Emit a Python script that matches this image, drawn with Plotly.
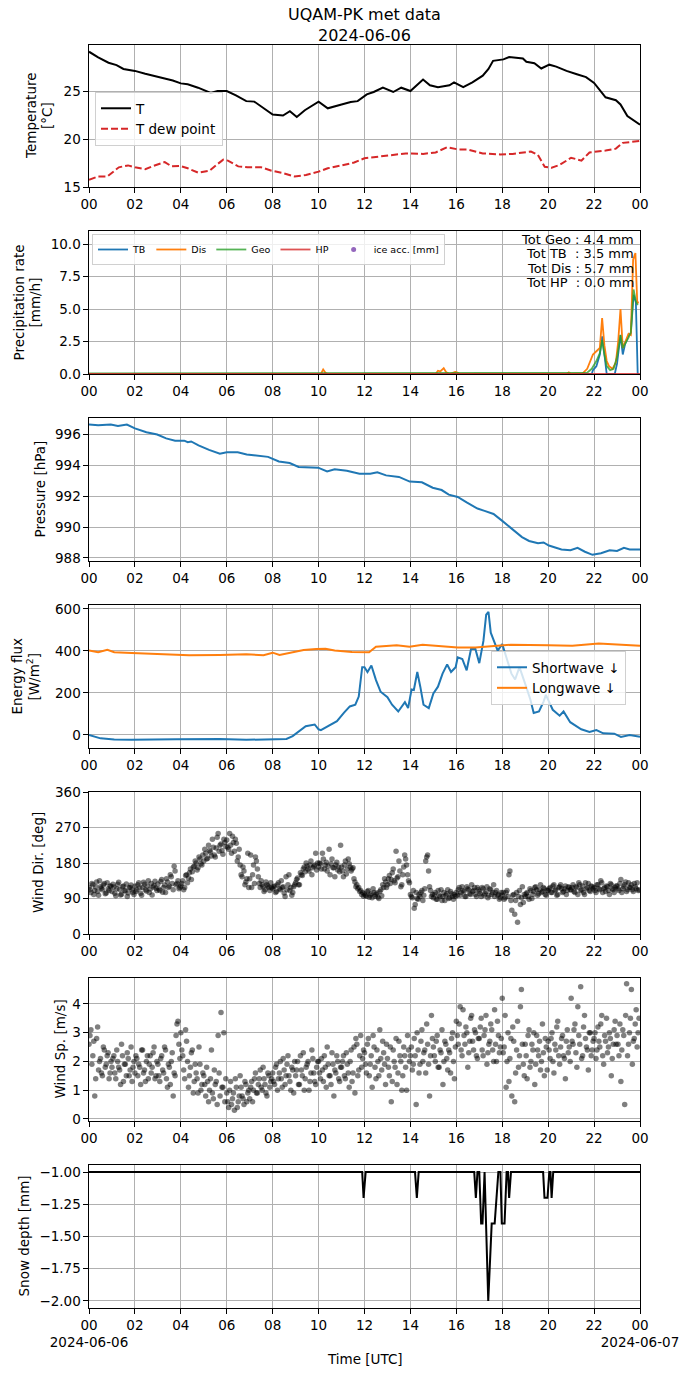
import numpy as np
import pandas as pd
import plotly.graph_objects as go

BASE = pd.Timestamp("2024-06-06 00:00")


def tt(h):
    return BASE + pd.to_timedelta(np.asarray(h, dtype=float), unit="h")


# ---------------- data (hours since 2024-06-06 00 UTC) ----------------
t_hours = [0.0, 0.4, 0.85, 1.2, 1.5, 2.0, 2.45, 2.95, 3.3, 3.65, 4.0, 4.3, 4.75, 5.3, 5.6, 6.0,
           6.4, 6.85, 7.2, 7.65, 8.0, 8.45, 8.75, 9.05, 9.4, 10.0, 10.4, 11.0, 11.4, 11.7, 12.1,
           12.4, 12.8, 13.25, 13.6, 14.0, 14.3, 14.55, 14.85, 15.2, 15.7, 15.9, 16.3, 16.7, 17.15,
           17.4, 17.6, 18.05, 18.3, 18.9, 19.05, 19.4, 19.7, 20.05, 20.35, 20.8, 21.25, 21.65,
           22.0, 22.5, 22.95, 23.15, 23.45, 24.0]
temp = [29.1, 28.5, 27.95, 27.7, 27.3, 27.1, 26.8, 26.5, 26.3, 26.1, 25.8, 25.7, 25.35, 24.8, 25.0, 25.0,
        24.55, 23.95, 23.9, 23.1, 22.55, 22.45, 22.9, 22.3, 23.0, 23.9, 23.2, 23.6, 23.85, 23.95, 24.65,
        24.9, 25.35, 24.9, 25.35, 25.0, 25.7, 26.2, 25.6, 25.4, 25.6, 25.9, 25.4, 25.9, 26.6,
        27.3, 28.15, 28.3, 28.55, 28.4, 28.05, 27.9, 27.35, 27.75, 27.55, 27.1, 26.75, 26.45,
        25.85, 24.35, 24.05, 23.6, 22.4, 21.5]

td_hours = [0.0, 0.4, 0.8, 1.3, 1.7, 2.0, 2.45, 2.8, 3.3, 3.6, 3.95, 4.3, 4.75, 5.25, 5.55, 5.85,
            6.05, 6.5, 6.9, 7.5, 7.95, 8.45, 8.95, 9.45, 10.0, 10.4, 11.0, 11.55, 12.0, 12.95,
            13.8, 14.55, 15.1, 15.6, 16.1, 16.5, 17.15, 17.9, 18.45, 19.25, 19.55, 19.85, 20.15,
            20.5, 21.0, 21.45, 21.8, 22.5, 22.95, 23.25, 23.85, 24.0]
tdew = [15.75, 16.1, 16.1, 17.05, 17.25, 17.05, 16.85, 17.2, 17.6, 17.15, 17.2, 16.95, 16.5, 16.7, 17.3, 17.85,
        17.75, 17.15, 17.05, 17.05, 16.7, 16.45, 16.1, 16.25, 16.6, 16.95, 17.25, 17.55, 18.0, 18.25,
        18.5, 18.45, 18.6, 19.15, 18.9, 18.9, 18.5, 18.4, 18.45, 18.7, 18.35, 17.1, 17.0,
        17.3, 18.05, 17.75, 18.6, 18.8, 19.0, 19.6, 19.8, 19.8]

tb_hours = [0.0, 21.9, 21.95, 22.1, 22.25, 22.35, 22.45, 22.55, 22.9, 23.0, 23.15, 23.25, 23.35,
            23.5, 23.6, 23.72, 23.82, 23.9, 23.95]
tb_rate = [0.0, 0.0, 0.3, 0.6, 1.5, 2.9, 1.5, 0.0, 0.0, 0.8, 3.0, 1.5, 2.3,
           3.0, 3.1, 6.1, 5.5, 0.0, 0.0]

dis_hours = [0.0, 10.1, 10.2, 10.3, 10.4, 15.1, 15.2, 15.3, 15.45, 15.55, 15.7, 15.95, 16.05, 16.15,
             20.8, 20.9, 21.0, 21.5, 21.7, 21.85, 21.95, 22.1, 22.25, 22.35, 22.45, 22.55, 22.65,
             22.8, 22.95, 23.05, 23.15, 23.25, 23.35, 23.5, 23.6, 23.7, 23.8, 23.88, 23.95]
dis_rate = [0.0, 0.0, 0.35, 0.1, 0.0, 0.0, 0.25, 0.2, 0.45, 0.15, 0.0, 0.15, 0.1, 0.0,
            0.0, 0.12, 0.0, 0.05, 0.4, 1.0, 1.5, 1.75, 2.0, 4.3, 2.2, 1.0, 0.6,
            0.4, 0.9, 2.5, 5.0, 2.0, 2.5, 3.1, 3.0, 8.8, 9.3, 5.5, 5.5]

geo_hours = [0.0, 10.2, 15.4, 21.7, 21.9, 22.1, 22.25, 22.35, 22.45, 22.55, 22.7, 22.85, 23.0,
             23.15, 23.25, 23.35, 23.5, 23.6, 23.72, 23.82, 23.9]
geo_rate = [0.05, 0.05, 0.05, 0.1, 0.4, 1.0, 1.6, 2.6, 1.5, 0.6, 0.3, 0.4, 1.3,
            3.0, 2.0, 2.3, 2.8, 3.2, 6.5, 5.6, 5.3]

hp_hours = [0.0, 24.0]
hp_rate = [0.0, 0.0]

ice_hours = [None]
ice_acc = [None]

p_hours = [0.0, 0.4, 0.95, 1.26, 1.65, 2.0, 2.5, 2.97, 3.36, 3.75, 4.15, 4.3, 4.45, 4.77, 5.23, 5.7,
           6.0, 6.48, 6.87, 7.34, 7.8, 8.27, 8.74, 9.13, 9.6, 9.98, 10.37, 10.7, 11.23, 11.78,
           12.25, 12.56, 12.94, 13.5, 13.97, 14.5, 14.97, 15.36, 15.67, 16.06, 16.45, 16.92,
           17.23, 17.62, 18.0, 18.47, 18.86, 19.17, 19.56, 19.8, 20.03, 20.58, 20.97, 21.28,
           21.6, 21.93, 22.3, 22.68, 23.0, 23.3, 23.55, 24.0]
pressure = [996.65, 996.6, 996.65, 996.55, 996.65, 996.4, 996.15, 996.0, 995.75, 995.6, 995.6, 995.5,
            995.55, 995.3, 995.0, 994.75, 994.85, 994.85, 994.7, 994.6, 994.55, 994.25, 994.15,
            993.9, 993.85, 993.85, 993.6, 993.75, 993.65, 993.45, 993.45, 993.55, 993.35, 993.25,
            992.95, 992.9, 992.55, 992.4, 992.1, 991.95, 991.6, 991.2, 991.05, 990.85, 990.4,
            989.85, 989.35, 989.1, 988.95, 989.0, 988.8, 988.55, 988.5, 988.65, 988.4, 988.2,
            988.3, 988.5, 988.45, 988.65, 988.55, 988.55]

sw_hours = [0.0, 0.5, 1.1, 1.86, 3.8, 5.7, 6.85, 8.0, 8.6, 8.87, 9.15, 9.44, 9.83, 10.0, 10.1,
            10.5, 10.8, 11.1, 11.36, 11.6, 11.75, 11.9, 12.0, 12.13, 12.3, 12.5, 12.7, 13.0,
            13.2, 13.47, 13.76, 13.9, 14.05, 14.15, 14.3, 14.43, 14.57, 14.8, 15.0, 15.2, 15.4,
            15.6, 15.77, 15.97, 16.06, 16.26, 16.45, 16.64, 16.83, 17.0, 17.18, 17.3, 17.4,
            17.5, 17.6, 17.8, 18.0, 18.2, 18.4, 18.56, 18.75, 19.04, 19.23, 19.37, 19.6, 19.8,
            19.9, 20.2, 20.5, 20.67, 20.96, 21.44, 21.8, 22.1, 22.4, 22.88, 23.17, 23.55, 24.0]
shortwave = [0, -16, -22, -23, -20, -19, -23, -22, -19, -5, 19, 42, 50, 27, 23,
             47, 66, 105, 136, 144, 183, 323, 323, 300, 331, 261, 206, 180,
             144, 112, 156, 128, 217, 214, 300, 230, 144, 128, 198, 230, 292,
             336, 300, 323, 370, 362, 308, 409, 409, 342, 448, 573, 586,
             487, 456, 402, 433, 362, 292, 264, 323, 230, 167, 105, 112, 159,
             191, 120, 92, 112, 61, 27, 14, 23, 8, 6, -9, 0, -8]

lw_hours = [0.0, 0.4, 0.8, 1.1, 1.86, 3.8, 4.36, 5.7, 6.85, 7.6, 8.0, 8.3, 8.8, 9.35, 9.9, 10.3,
            10.7, 11.45, 12.2, 12.5, 13.4, 13.96, 14.53, 15.3, 16.06, 16.83, 17.6, 18.37, 20.0,
            21.05, 22.2, 22.97, 24.0]
longwave = [402, 394, 406, 394, 391, 384, 380, 381, 384, 380, 392, 381, 392, 405, 409, 411,
            402, 395, 394, 420, 427, 420, 430, 422, 417, 417, 425, 430, 427,
            425, 436, 431, 425]

# wind: two interleaved series of readings, one value every 5 minutes each (12 per hour)
wind_dir_a = [
    118, 105, 125, 110, 132, 98, 120, 112, 128, 104, 115, 122,
    108, 119, 97, 126, 113, 101, 122, 109, 95, 117, 124, 106,
    121, 112, 130, 103, 118, 126, 109, 135, 114, 99, 123, 116,
    127, 110, 138, 118, 105, 132, 121, 145, 112, 160, 128, 115,
    122, 135, 118, 150, 142, 165, 158, 172, 180, 168, 190, 175,
    185, 205, 192, 212, 198, 220, 195, 245, 210, 228, 202, 232,
    238, 215, 225, 248, 210, 230, 195, 175, 145, 160, 132, 205,
    140, 118, 175, 195, 165, 128, 135, 120, 112, 125, 118, 130,
    115, 122, 108, 130, 112, 118, 104, 145, 125, 110, 98, 120,
    130, 142, 125, 150, 165, 158, 172, 160, 185, 168, 175, 162,
    170, 178, 205, 165, 182, 172, 150, 190, 168, 175, 162, 158,
    170, 145, 185, 165, 178, 160, 168, 132, 125, 118, 110, 105,
    102, 96, 110, 98, 92, 105, 100, 94, 108, 97, 118, 132,
    125, 148, 138, 165, 130, 142, 185, 120, 150, 200, 175, 135,
    100, 92, 65, 105, 88, 95, 110, 98, 185, 200, 120, 95,
    92, 105, 88, 98, 112, 95, 85, 102, 90, 108, 96, 100,
    105, 112, 98, 120, 108, 95, 115, 102, 125, 110, 100, 118,
    108, 95, 115, 102, 120, 98, 112, 105, 95, 110, 100, 92,
    98, 88, 105, 95, 160, 60, 100, 85, 30, 110, 92, 80,
    95, 105, 88, 110, 100, 118, 112, 102, 125, 108, 115, 98,
    110, 118, 105, 125, 112, 100, 120, 115, 108, 122, 110, 118,
    112, 125, 105, 118, 130, 110, 122, 100, 115, 128, 108, 120,
    118, 105, 125, 112, 130, 115, 108, 120, 100, 125, 112, 118,
    122, 110, 138, 115, 125, 108, 130, 118, 112, 128, 115, 110,
]
wind_dir_b = [
    112, 128, 100, 119, 108, 135, 116, 124, 102, 130, 110, 121,
    126, 103, 115, 131, 99, 120, 110, 127, 104, 118, 112, 100,
    108, 125, 117, 98, 131, 112, 122, 105, 128, 119, 134, 110,
    114, 133, 106, 124, 140, 118, 150, 128, 172, 125, 135, 118,
    128, 112, 148, 130, 155, 138, 170, 185, 162, 195, 178, 200,
    215, 190, 225, 208, 240, 200, 218, 255, 225, 212, 240, 222,
    220, 255, 205, 232, 240, 185, 215, 150, 170, 125, 140, 118,
    200, 150, 128, 185, 145, 118, 125, 108, 132, 122, 110, 118,
    120, 105, 125, 115, 135, 120, 95, 112, 150, 118, 105, 125,
    138, 125, 155, 148, 170, 180, 165, 175, 150, 172, 205, 180,
    180, 165, 190, 175, 160, 215, 178, 168, 145, 182, 170, 225,
    160, 175, 152, 190, 170, 165, 140, 120, 115, 108, 100, 96,
    98, 108, 93, 102, 115, 96, 104, 90, 112, 125, 140, 118,
    140, 128, 155, 135, 210, 145, 160, 125, 170, 190, 150, 130,
    95, 110, 75, 90, 100, 105, 85, 115, 195, 160, 110, 100,
    100, 88, 110, 95, 85, 105, 98, 112, 92, 102, 88, 95,
    98, 118, 105, 110, 95, 120, 112, 100, 108, 118, 95, 112,
    102, 118, 98, 108, 92, 115, 100, 125, 105, 98, 88, 105,
    105, 92, 110, 150, 85, 98, 50, 105, 95, 75, 120, 100,
    102, 95, 115, 90, 108, 120, 98, 112, 105, 118, 100, 110,
    115, 105, 122, 110, 98, 118, 125, 105, 115, 100, 120, 112,
    118, 108, 120, 100, 125, 112, 105, 130, 118, 110, 122, 115,
    110, 125, 115, 135, 105, 118, 122, 110, 128, 115, 105, 122,
    115, 128, 105, 120, 132, 112, 118, 125, 108, 120, 130, 112,
]
wind_speed_a = [
    2.6, 3.1, 2.2, 0.8, 2.8, 1.7, 2.1, 1.5, 2.4, 1.9, 2.3, 1.6,
    1.8, 2.2, 1.4, 2.0, 1.7, 2.6, 1.3, 1.9, 2.3, 1.5, 2.5, 1.8,
    1.6, 2.1, 1.9, 1.2, 2.4, 1.7, 2.0, 1.4, 2.2, 1.8, 2.5, 1.5,
    1.9, 1.3, 2.2, 1.6, 2.4, 1.1, 1.8, 2.0, 0.8, 1.5, 3.3, 2.6,
    3.0, 2.2, 1.4, 2.7, 1.1, 1.8, 2.4, 1.3, 1.6, 0.9, 1.9, 1.2,
    1.5, 0.8, 1.3, 1.0, 2.4, 0.7, 1.2, 0.5, 1.6, 3.7, 1.1, 0.6,
    0.9, 0.4, 1.3, 0.7, 0.3, 1.1, 0.6, 1.5, 0.8, 0.5, 1.2, 0.9,
    0.7, 1.3, 1.0, 1.6, 0.9, 1.4, 1.1, 1.8, 1.2, 0.8, 1.5, 1.3,
    1.6, 1.2, 1.9, 1.4, 2.0, 1.1, 1.7, 1.5, 2.2, 1.3, 1.8, 0.9,
    1.5, 2.0, 1.2, 1.7, 2.3, 1.4, 1.9, 1.0, 1.6, 2.1, 1.3, 1.8,
    2.0, 1.4, 1.7, 2.2, 1.1, 1.9, 1.5, 2.3, 0.8, 1.6, 2.0, 1.3,
    1.8, 2.2, 1.4, 1.9, 1.1, 2.4, 1.6, 0.9, 2.6, 1.7, 2.9, 2.1,
    2.3, 1.6, 2.8, 1.9, 1.1, 2.5, 1.4, 2.0, 3.1, 1.7, 2.3, 1.2,
    2.1, 1.5, 0.6, 2.4, 1.8, 1.2, 2.7, 2.0, 1.5, 2.2, 1.0, 2.4,
    2.2, 1.7, 2.8, 0.5, 2.4, 1.9, 3.1, 2.3, 1.6, 2.6, 0.8, 3.6,
    2.5, 2.0, 2.9, 1.8, 2.3, 1.2, 2.7, 2.1, 2.4, 1.6, 3.0, 1.4,
    3.4, 2.6, 3.9, 2.2, 2.9, 3.2, 1.8, 2.7, 3.6, 2.4, 3.0, 2.1,
    2.8, 3.5, 2.2, 3.1, 1.9, 2.6, 3.3, 2.4, 3.8, 2.0, 2.9, 2.5,
    4.2, 2.5, 1.1, 3.0, 2.1, 0.8, 2.7, 1.6, 3.4, 2.2, 4.5, 1.9,
    2.6, 1.4, 3.1, 2.0, 2.4, 1.2, 2.9, 2.2, 1.7, 3.3, 1.5, 2.5,
    2.7, 2.1, 3.0, 1.6, 2.4, 3.4, 1.9, 2.8, 2.2, 1.4, 3.1, 2.5,
    4.2, 2.6, 3.3, 1.8, 2.9, 4.6, 2.2, 3.6, 2.5, 1.7, 3.0, 2.4,
    2.8, 2.1, 3.2, 2.5, 3.6, 1.9, 2.7, 2.3, 3.0, 1.5, 2.6, 3.4,
    2.9, 2.2, 1.3, 3.1, 0.5, 4.7, 2.6, 3.5, 1.9, 2.8, 3.8, 3.0,
]
wind_speed_b = [
    2.9, 1.9, 2.7, 1.4, 3.2, 2.0, 1.6, 2.5, 1.8, 2.2, 1.4, 2.0,
    2.1, 1.6, 2.4, 1.8, 1.2, 2.2, 1.9, 1.5, 2.1, 1.7, 1.3, 2.0,
    2.2, 1.5, 1.8, 2.4, 1.6, 1.3, 2.2, 1.9, 1.6, 2.3, 1.4, 2.0,
    1.5, 2.1, 1.7, 2.5, 1.4, 1.9, 1.2, 2.3, 1.6, 2.9, 3.4, 2.1,
    2.4, 1.7, 3.1, 2.0, 1.5, 2.3, 0.9, 1.9, 1.4, 2.5, 1.0, 1.6,
    1.2, 1.8, 0.6, 1.4, 0.9, 1.7, 1.3, 2.9, 0.8, 1.1, 3.0, 1.4,
    0.6, 1.0, 0.5, 0.9, 1.4, 0.4, 0.8, 1.1, 0.7, 1.3, 0.6, 1.0,
    1.1, 0.6, 1.4, 0.9, 1.2, 1.7, 1.0, 1.4, 0.9, 1.6, 1.1, 1.4,
    1.3, 1.8, 1.0, 1.6, 1.4, 2.1, 1.2, 1.9, 1.5, 1.0, 1.7, 2.0,
    1.7, 1.2, 2.2, 1.5, 1.0, 1.8, 2.0, 1.3, 2.4, 1.6, 1.2, 2.0,
    1.6, 2.1, 1.3, 1.8, 2.5, 1.5, 1.2, 1.9, 1.7, 2.2, 1.4, 1.8,
    2.0, 1.5, 2.3, 1.6, 2.0, 1.3, 2.5, 2.8, 1.5, 2.2, 1.8, 2.4,
    1.9, 2.6, 1.5, 2.2, 2.9, 1.8, 2.4, 1.5, 2.1, 2.7, 1.9, 2.6,
    1.8, 2.5, 1.3, 2.0, 2.8, 1.6, 2.2, 1.0, 2.5, 1.8, 2.9, 2.0,
    2.5, 1.9, 2.2, 3.0, 1.6, 2.7, 2.0, 2.4, 3.3, 1.9, 2.2, 2.8,
    2.2, 2.7, 1.8, 2.4, 3.1, 2.0, 2.6, 1.7, 2.3, 2.8, 2.0, 2.5,
    2.9, 3.3, 2.4, 3.8, 2.6, 3.0, 2.3, 3.5, 2.7, 3.1, 2.2, 2.8,
    3.2, 2.4, 2.9, 3.6, 2.3, 2.7, 3.1, 2.0, 2.6, 3.4, 2.3, 2.8,
    2.3, 3.6, 2.0, 1.3, 2.8, 3.2, 0.6, 2.4, 1.8, 3.9, 2.6, 1.5,
    2.2, 2.9, 1.8, 2.6, 3.0, 1.9, 2.4, 2.7, 2.0, 2.3, 2.8, 1.7,
    2.4, 2.8, 2.0, 2.6, 3.2, 2.2, 2.5, 2.9, 2.1, 2.7, 2.3, 2.0,
    2.7, 3.1, 2.3, 3.9, 2.6, 2.1, 3.2, 2.8, 2.4, 3.0, 2.2, 2.7,
    3.0, 2.4, 2.7, 3.3, 2.2, 2.9, 3.5, 2.5, 2.8, 2.1, 3.1, 2.6,
    2.6, 3.3, 2.4, 2.9, 3.6, 2.2, 3.0, 4.5, 2.7, 3.3, 2.5, 3.5,
]

snow_hours = [0.0, 11.9, 11.96, 12.05, 14.2, 14.28, 14.36, 16.78, 16.85, 16.92, 17.0, 17.08, 17.14,
              17.23, 17.39, 17.54, 17.67, 17.83, 17.92, 17.98, 18.1, 18.19, 18.25, 18.3, 18.38,
              19.78, 19.84, 19.97, 20.05, 20.1, 20.15, 20.22, 24.0]
snow_depth = [-1.0, -1.0, -1.2, -1.0, -1.0, -1.2, -1.0, -1.0, -1.2, -1.0, -1.0, -1.4, -1.4,
              -1.0, -2.0, -1.4, -1.4, -1.0, -1.0, -1.4, -1.4, -1.0, -1.0, -1.2, -1.0,
              -1.0, -1.2, -1.2, -1.0, -1.0, -1.2, -1.0, -1.0]

tick_hours = list(range(0, 25, 2))
tick_labels = ["00", "02", "04", "06", "08", "10", "12", "14", "16", "18", "20", "22", "00"]
tick_labels_bottom = ["00<br>2024-06-06"] + tick_labels[1:-1] + ["00<br>2024-06-07"]

totals = ["Tot Geo : 4.4 mm", "Tot TB\u00a0 : 3.5 mm", "Tot Dis : 5.7 mm", "Tot HP\u00a0 : 0.0 mm"]

# ---------------- figure ----------------
FONT = "DejaVu Sans"
FS = 13.5
TOP, BOT = 45, 1308               # plot area in page pixels
H = BOT - TOP
LEFT, RIGHT = 89, 640
W = RIGHT - LEFT
FIG_W, FIG_H = 690, 1377
panels_px = [(45, 187), (231, 374), (418, 561), (605, 748), (792, 934), (978, 1121), (1165, 1308)]


def ypaper(px):
    return (BOT - px) / H


def xpaper(px):
    return (px - LEFT) / W


fig = go.Figure()
BLUE, ORANGE, GREEN, RED, PURPLE = "#1f77b4", "#ff7f0e", "#2ca02c", "#d62728", "#9467bd"

# panel 1
fig.add_trace(go.Scatter(x=tt(t_hours), y=temp, mode="lines", name="T",
                         line=dict(color="black", width=2), xaxis="x", yaxis="y", legend="legend"))
fig.add_trace(go.Scatter(x=tt(td_hours), y=tdew, mode="lines", name="T dew point",
                         line=dict(color=RED, width=2, dash="7px,3px"), xaxis="x", yaxis="y",
                         legend="legend"))
# panel 2
fig.add_trace(go.Scatter(x=tt(tb_hours), y=tb_rate, mode="lines", name="TB",
                         line=dict(color=BLUE, width=1.8), xaxis="x2", yaxis="y2", legend="legend2"))
fig.add_trace(go.Scatter(x=tt(dis_hours), y=dis_rate, mode="lines", name="Dis",
                         line=dict(color=ORANGE, width=1.8), xaxis="x2", yaxis="y2", legend="legend2"))
fig.add_trace(go.Scatter(x=tt(geo_hours), y=geo_rate, mode="lines", name="Geo", opacity=0.8,
                         line=dict(color=GREEN, width=1.8), xaxis="x2", yaxis="y2", legend="legend2"))
fig.add_trace(go.Scatter(x=tt(hp_hours), y=hp_rate, mode="lines", name="HP", opacity=0.8,
                         line=dict(color=RED, width=1.8), xaxis="x2", yaxis="y2", legend="legend2"))
fig.add_trace(go.Scatter(x=ice_hours, y=ice_acc, mode="markers", name="ice acc. [mm]",
                         marker=dict(color=PURPLE, size=5), xaxis="x2", yaxis="y2", legend="legend2"))
# panel 3
fig.add_trace(go.Scatter(x=tt(p_hours), y=pressure, mode="lines", showlegend=False,
                         line=dict(color=BLUE, width=2), xaxis="x3", yaxis="y3"))
# panel 4
fig.add_trace(go.Scatter(x=tt(sw_hours), y=shortwave, mode="lines", name="Shortwave \u2193",
                         line=dict(color=BLUE, width=2), xaxis="x4", yaxis="y4", legend="legend3"))
fig.add_trace(go.Scatter(x=tt(lw_hours), y=longwave, mode="lines", name="Longwave \u2193",
                         line=dict(color=ORANGE, width=2), xaxis="x4", yaxis="y4", legend="legend3"))
# panel 5, 6
n_w = len(wind_dir_a)
wind_hours = np.concatenate([np.arange(n_w) / 12.0, (np.arange(n_w) + 0.5) / 12.0])
wdir = wind_dir_a + wind_dir_b
wspd = wind_speed_a + wind_speed_b
mk = dict(color="rgba(0,0,0,0.5)", size=5.5, line=dict(width=0))
fig.add_trace(go.Scatter(x=tt(wind_hours), y=wdir, mode="markers", showlegend=False,
                         marker=mk, xaxis="x5", yaxis="y5"))
fig.add_trace(go.Scatter(x=tt(wind_hours), y=wspd, mode="markers", showlegend=False,
                         marker=mk, xaxis="x6", yaxis="y6"))
# panel 7
fig.add_trace(go.Scatter(x=tt(snow_hours), y=snow_depth, mode="lines", showlegend=False,
                         line=dict(color="black", width=2), xaxis="x7", yaxis="y7"))

yranges = [[15.0, 29.8], [0, 11], [987.8, 997.07], [-62, 619], [0, 360], [-0.07, 4.9], [-2.055, -0.945]]
ytick = [
    dict(tickvals=[15, 20, 25]),
    dict(tickvals=[0, 2.5, 5, 7.5, 10], tickformat=".1f"),
    dict(tickvals=[988, 990, 992, 994, 996]),
    dict(tickvals=[0, 200, 400, 600]),
    dict(tickvals=[0, 90, 180, 270, 360]),
    dict(tickvals=[0, 1, 2, 3, 4]),
    dict(tickvals=[-2.0, -1.75, -1.5, -1.25, -1.0], tickformat=".2f"),
]

common = dict(showgrid=True, gridcolor="#b0b0b0", gridwidth=1.1, showline=True, linecolor="black",
              linewidth=1.1, mirror=True, ticks="outside", ticklen=4.5, tickwidth=1.1,
              tickcolor="black", zeroline=False, tickangle=0,
              tickfont=dict(family=FONT, size=FS, color="black"))

layout_axes = {}
for i, (a, b) in enumerate(panels_px):
    n = "" if i == 0 else str(i + 1)
    layout_axes["xaxis" + n] = dict(
        domain=[0, 1], anchor="y" + n, type="date",
        range=[tt(0.0), tt(24.0)],
        tickvals=tt(tick_hours),
        ticktext=tick_labels_bottom if i == 6 else tick_labels,
        **common)
    layout_axes["yaxis" + n] = dict(
        domain=[ypaper(b), ypaper(a)], anchor="x" + n, range=yranges[i], **ytick[i], **common)

fig.update_layout(**layout_axes)

ann = []


def add_text(text, xpx, ypx, size=FS, xanchor="center", angle=0):
    ann.append(dict(text=text, x=xpaper(xpx), y=ypaper(ypx), xref="paper", yref="paper",
                    showarrow=False, xanchor=xanchor, yanchor="middle", textangle=angle,
                    font=dict(family=FONT, size=size, color="black")))


add_text("UQAM-PK met data<br>2024-06-06", 364.5, 25, size=16)
add_text("Time [UTC]", 364.5, 1359)

mid = [(a + b) / 2 for a, b in panels_px]
add_text("Temperature", 31, mid[0], angle=-90)
add_text("[°C]", 47, mid[0], angle=-90)
add_text("Precipitation rate", 18, mid[1], angle=-90)
add_text("[mm/h]", 34, mid[1], angle=-90)
add_text("Pressure [hPa]", 39, mid[2], angle=-90)
add_text("Energy flux", 16, mid[3], angle=-90)
add_text("[W/m<sup>2</sup>]", 33, mid[3], angle=-90)
add_text("Wind Dir. [deg]", 38, mid[4], angle=-90)
add_text("Wind Sp. [m/s]", 59, mid[5], angle=-90)
add_text("Snow depth [mm]", 23, mid[6], angle=-90)

for k, line in enumerate(totals):
    add_text(line, 636, 239.5 + 14.3 * k, size=13, xanchor="right")

legend_common = dict(bgcolor="rgba(255,255,255,0.8)", bordercolor="#d0d0d0", borderwidth=1,
                     xanchor="left", yanchor="top")
fig.update_layout(
    width=FIG_W, height=FIG_H, autosize=False,
    margin=dict(l=LEFT, r=FIG_W - RIGHT, t=TOP, b=FIG_H - BOT),
    paper_bgcolor="white", plot_bgcolor="white",
    font=dict(family=FONT, size=FS, color="black"),
    annotations=ann,
    legend=dict(x=xpaper(95), y=ypaper(92), font=dict(size=FS), itemwidth=30,
                tracegroupgap=0, **legend_common),
    legend2=dict(x=xpaper(92), y=ypaper(234), orientation="h", font=dict(size=9.5),
                 itemwidth=30, **legend_common),
    legend3=dict(x=xpaper(491), y=ypaper(651), font=dict(size=FS), itemwidth=30,
                 **legend_common),
)

fig.write_html("out.html", config={"displayModeBar": False},
               post_script="document.body.style.margin='0px';")
